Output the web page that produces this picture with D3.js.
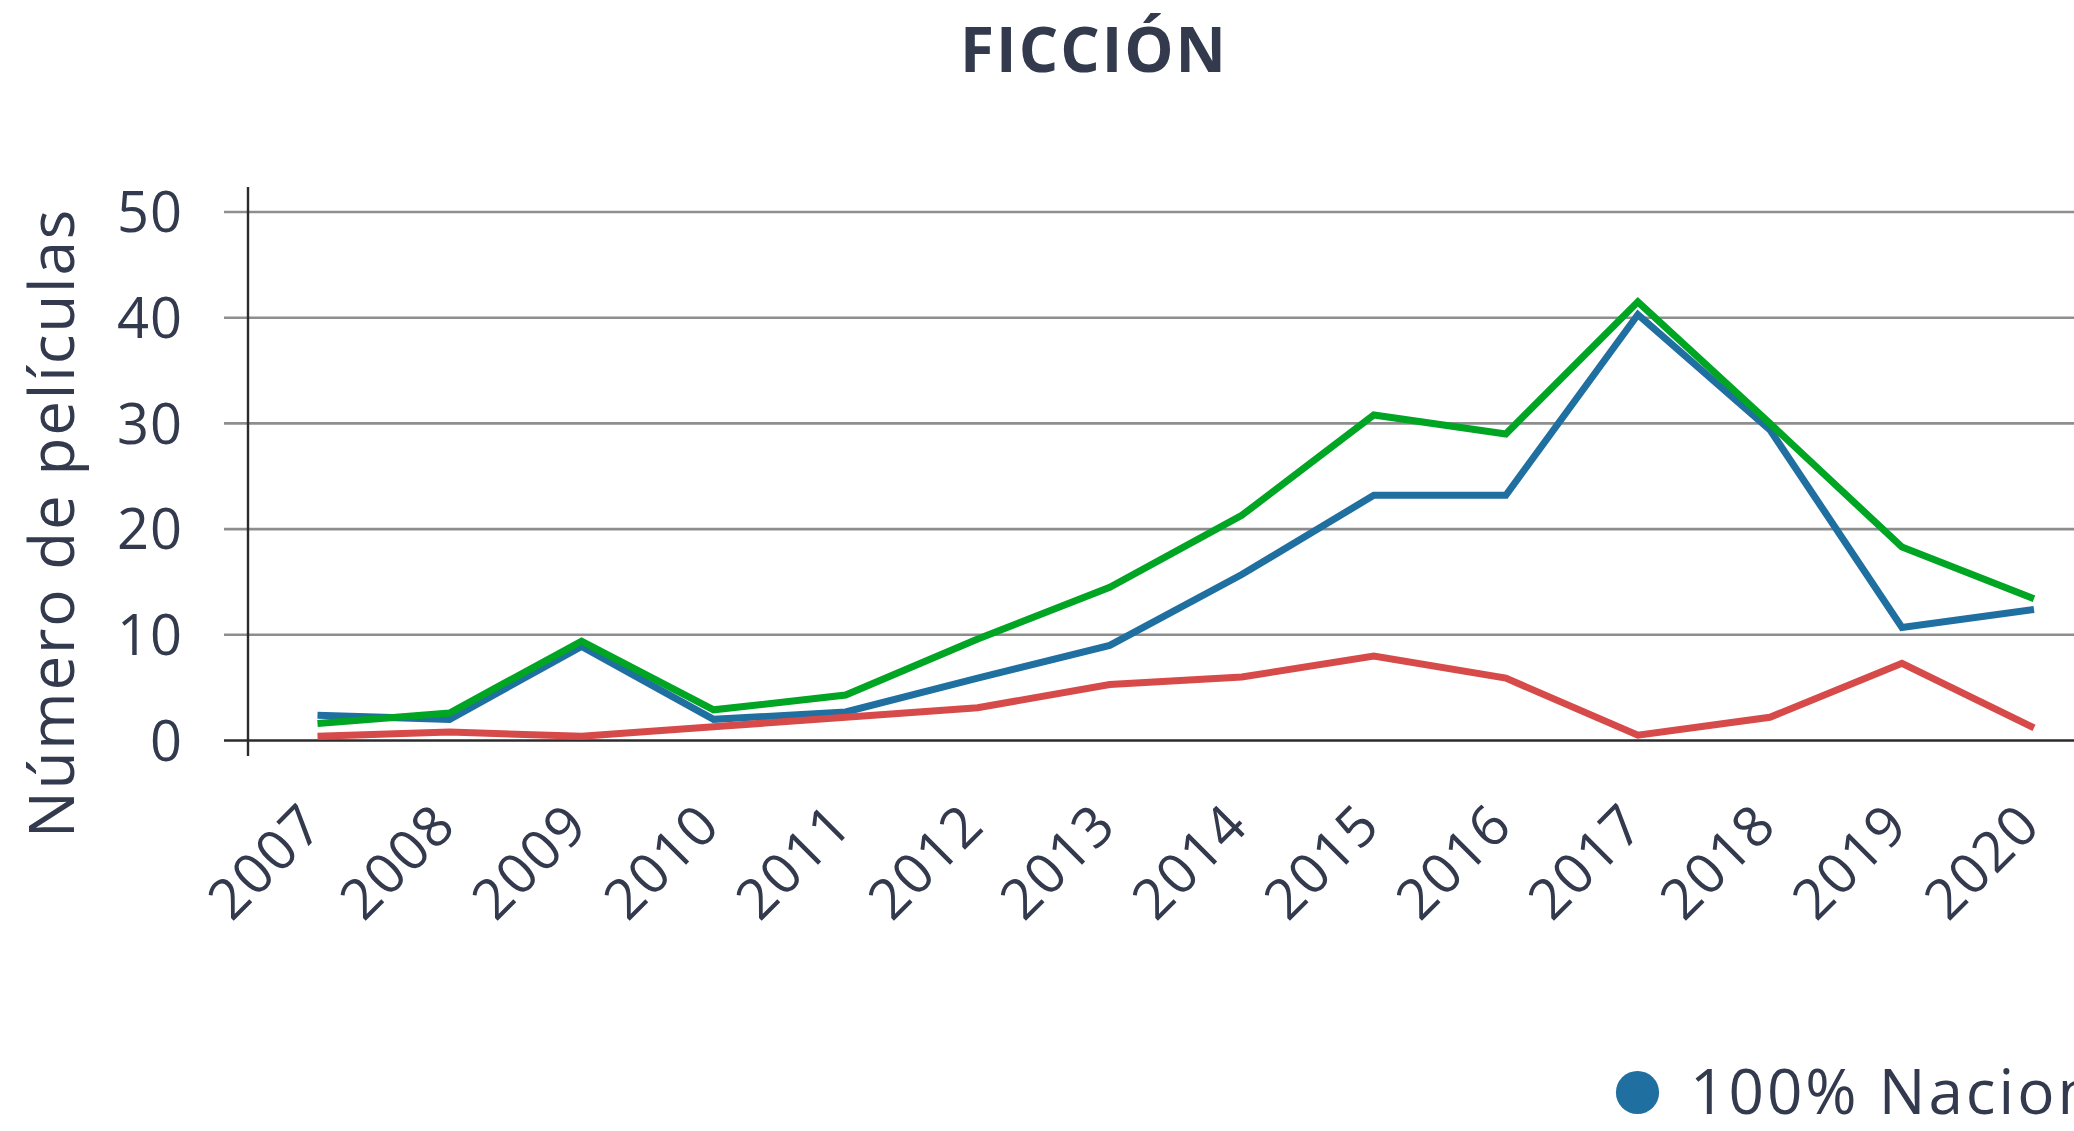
<!DOCTYPE html>
<html lang="es">
<head>
<meta charset="utf-8">
<script src="https://d3js.org/d3.v7.min.js"></script>
<style type="text/css">
body {
    margin: 0;
    background: #fff;
}
text {
    font-family: "Open Sans", sans-serif;
    fill: #343a4e;
}
</style>
</head>
<body>
<div id="chart"></div>
<script type="text/javascript">

// data (number of films per year)
var years = ["2007", "2008", "2009", "2010", "2011", "2012", "2013", "2014", "2015", "2016", "2017", "2018", "2019", "2020"];
var nacional = [2.4, 2.0, 8.9, 2.0, 2.7, 5.9, 9.0, 15.7, 23.2, 23.2, 40.3, 29.4, 10.7, 12.4];
var verde = [1.6, 2.6, 9.4, 2.9, 4.3, 9.6, 14.5, 21.3, 30.8, 29.0, 41.5, 30.0, 18.3, 13.4];
var rojo = [0.4, 0.8, 0.4, 1.3, 2.2, 3.1, 5.3, 6.0, 8.0, 5.9, 0.5, 2.2, 7.3, 1.2];
var yTicks = [0, 10, 20, 30, 40, 50];

var width = 2074;
var height = 1131;

var svg = d3.select("#chart")
    .append("svg")
    .attr("width", width)
    .attr("height", height);

// scales
var x = d3.scalePoint()
    .domain(years)
    .range([317.5, 2034]);

var y = d3.scaleLinear()
    .domain([0, 50])
    .range([740.5, 212]);

// title
svg.append("text")
    .attr("x", 1094)
    .attr("y", 72)
    .attr("text-anchor", "middle")
    .style("font-size", "62px")
    .style("font-weight", "700")
    .style("letter-spacing", "2px")
    .text("FICCIÓN");

// horizontal grid lines
svg.selectAll(".grid")
    .data(yTicks)
    .enter()
    .append("line")
    .attr("class", "grid")
    .attr("x1", 224)
    .attr("x2", width)
    .attr("y1", function(d) { return y(d); })
    .attr("y2", function(d) { return y(d); })
    .style("stroke", function(d) { return d === 0 ? "#2b2b2b" : "#8e8e8e"; })
    .style("stroke-width", 2.6);

// vertical axis line
svg.append("line")
    .attr("x1", 248)
    .attr("x2", 248)
    .attr("y1", 187)
    .attr("y2", 756)
    .style("stroke", "#2b2b2b")
    .style("stroke-width", 2.4);

// y tick labels
svg.selectAll(".ylab")
    .data(yTicks)
    .enter()
    .append("text")
    .attr("class", "ylab")
    .attr("x", 183)
    .attr("y", function(d) { return y(d); })
    .attr("dy", "0.36em")
    .attr("text-anchor", "end")
    .style("font-size", "56px")
    .style("letter-spacing", "1px")
    .text(function(d) { return d; });

// y axis title
svg.append("text")
    .attr("transform", "translate(74,523) rotate(-90)")
    .attr("text-anchor", "middle")
    .style("font-size", "62px")
    .style("letter-spacing", "1.8px")
    .text("Número de películas");

// x tick labels, rotated
svg.selectAll(".xlab")
    .data(years)
    .enter()
    .append("text")
    .attr("class", "xlab")
    .attr("text-anchor", "end")
    .attr("transform", function(d) { return "translate(" + (x(d) + 9) + ",828) rotate(-45)"; })
    .style("font-size", "56px")
    .style("letter-spacing", "1.5px")
    .text(function(d) { return d; });

// lines
var line = d3.line()
    .x(function(d, i) { return x(years[i]); })
    .y(function(d) { return y(d); });

var series = [
    { values: nacional, color: "#1f6fa0" },
    { values: verde, color: "#00a524" },
    { values: rojo, color: "#d64b49" }
];

svg.selectAll(".serie")
    .data(series)
    .enter()
    .append("path")
    .attr("class", "serie")
    .attr("d", function(d) { return line(d.values); })
    .style("fill", "none")
    .style("stroke", function(d) { return d.color; })
    .style("stroke-width", 7)
    .style("stroke-linejoin", "miter");

// legend (cut by the right edge like the original)
svg.append("circle")
    .attr("cx", 1637.5)
    .attr("cy", 1092.5)
    .attr("r", 21.6)
    .style("fill", "#1f6fa0");

svg.append("text")
    .attr("x", 1690)
    .attr("y", 1114)
    .style("font-size", "62px")
    .style("letter-spacing", "3px")
    .text("100% Nacional");

</script>
</body>
</html>
